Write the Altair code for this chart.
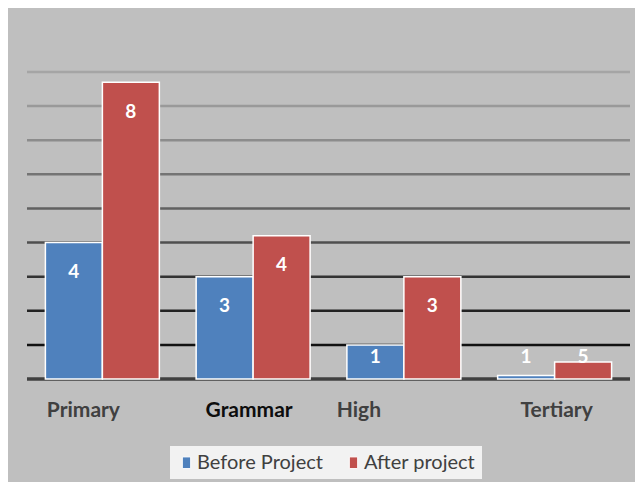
import altair as alt
import pandas as pd

categories = ["Primary", "Grammar", "High", "Tertiary"]
series = ["Before Project", "After project"]
before_values = [4.0, 3.0, 1.0, 0.1]
after_values = [8.7, 4.2, 3.0, 0.5]
before_labels = ["4", "3", "1", "1"]
after_labels = ["8", "4", "3", "5"]
grid_values = [1, 2, 3, 4, 5, 6, 7, 8, 9]
grid_colors = ["#111111", "#222222", "#333333", "#4f4f4f", "#616161",
               "#747474", "#8c8c8c", "#999999", "#a5a5a5"]
bar_colors = ["#4f81bd", "#c0504d"]

rows = []
for i, c in enumerate(categories):
    rows.append({"cat": c, "series": series[0], "v": before_values[i], "lab": before_labels[i]})
    rows.append({"cat": c, "series": series[1], "v": after_values[i], "lab": after_labels[i]})
df = pd.DataFrame(rows)
grid_df = pd.DataFrame({"g": grid_values})
base_df = pd.DataFrame({"b": [0]})

yscale = alt.Scale(domain=[0, 9], nice=False)
xscale = alt.Scale(domain=categories, paddingInner=0.244, paddingOuter=0.122)
offscale = alt.Scale(domain=series)

grid = alt.Chart(grid_df).mark_rule(strokeWidth=2.5).encode(
    y=alt.Y("g:Q", scale=yscale, axis=None),
    stroke=alt.Stroke("g:O", scale=alt.Scale(domain=grid_values, range=grid_colors), legend=None),
)

baseline = alt.Chart(base_df).mark_rule(strokeWidth=3.5, color="#404040").encode(
    y=alt.Y("b:Q", scale=yscale, axis=None),
)

xaxis = alt.Axis(
    title=None, domain=False, ticks=False, labelAngle=0,
    labelFont="Lato", labelFontWeight="bold", labelFontSize=21,
    labelColor={"condition": {"test": "datum.label == 'Grammar'", "value": "#0d0d0d"}, "value": "#404040"},
    labelPadding=20,
    labelOffset=alt.ExprRef(
        "datum.label == 'Primary' ? -19 : datum.label == 'Grammar' ? -4 : datum.label == 'High' ? -45 : 2"
    ),
)

bars = alt.Chart(df).mark_bar(stroke="white", strokeWidth=1.5).encode(
    x=alt.X("cat:N", scale=xscale, axis=xaxis, sort=categories),
    xOffset=alt.XOffset("series:N", scale=offscale, sort=series),
    y=alt.Y("v:Q", scale=yscale, axis=None),
    color=alt.Color(
        "series:N",
        scale=alt.Scale(domain=series, range=bar_colors),
        legend=alt.Legend(
            title=None, orient="none", direction="horizontal",
            legendX=143, legendY=374,
            fillColor="#f2f2f2", padding=6,
            symbolType="M-0.42,-0.585H0.42V0.585H-0.42Z", symbolSize=400,
            symbolStrokeColor="white", symbolStrokeWidth=1, symbolOpacity=1,
            labelFont="Lato", labelFontSize=20, labelColor="#404040",
            labelOffset=0, columnPadding=20,
        ),
    ),
)

text = alt.Chart(df).transform_calculate(
    lp="max(datum.v - 0.86, 0.65)"
).mark_text(
    font="Lato", fontWeight="bold", fontSize=19, color="white", baseline="middle"
).encode(
    x=alt.X("cat:N", scale=xscale, axis=xaxis, sort=categories),
    xOffset=alt.XOffset("series:N", scale=offscale, sort=series),
    y=alt.Y("lp:Q", scale=yscale, axis=None),
    text="lab:N",
)

chart = alt.layer(grid, baseline, bars, text).properties(
    width=603, height=307,
    padding={"left": 19, "top": 64, "right": 5, "bottom": 103},
    autosize=alt.AutoSizeParams(type="none"),
    background="#bfbfbf",
).configure_view(stroke=None)

chart.save("out.html", embed_options={"renderer": "svg", "actions": False})
